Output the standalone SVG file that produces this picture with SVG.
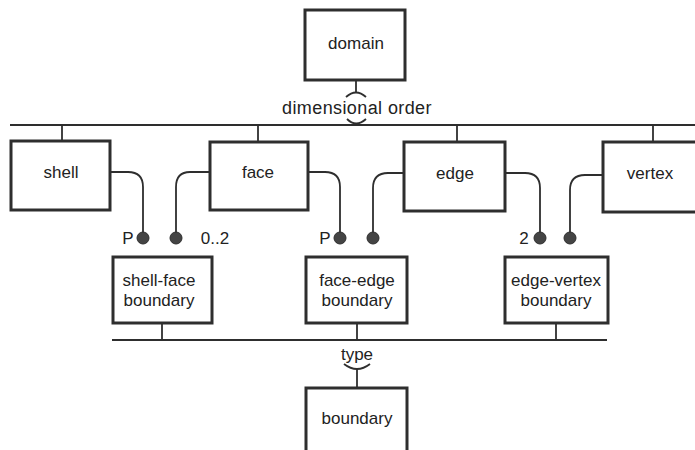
<svg xmlns="http://www.w3.org/2000/svg" width="695" height="450" viewBox="0 0 695 450">
<style>
.box{fill:#fff;stroke:#2e2e2e;stroke-width:3}
.ln{fill:none;stroke:#2e2e2e;stroke-width:1.8}
.dot{fill:#444;stroke:#2e2e2e;stroke-width:1}
text{font-family:"Liberation Sans",Arial,sans-serif;font-size:17px;fill:#222;text-anchor:middle}
.big{font-size:18px;letter-spacing:0.4px}
</style>
<rect width="695" height="450" fill="#fff"/>
<g id="connectors">
<path class="ln" d="M10,125 H695"/>
<path class="ln" d="M112,340 H607"/>
<path class="ln" d="M356,80 V93"/>
<path class="ln" d="M346,97 Q356,88 366,97"/>
<path class="ln" d="M347,119 Q356,128 366,119"/>
<path class="ln" d="M62,125 V141"/>
<path class="ln" d="M258,125 V142"/>
<path class="ln" d="M457,125 V142"/>
<path class="ln" d="M653,125 V142"/>
<path class="ln" d="M162,323 V340"/>
<path class="ln" d="M357,323 V340"/>
<path class="ln" d="M556,323 V340"/>
<path class="ln" d="M344,364 Q357,374 370,364"/>
<path class="ln" d="M357,369 V388"/>
<path class="ln" d="M110,172 H128 Q143,172 143,187 V233"/>
<path class="ln" d="M210,172 H190 Q176,172 176,187 V233"/>
<path class="ln" d="M308,172 H325 Q340,172 340,187 V233"/>
<path class="ln" d="M404,173 H388 Q373,173 373,188 V233"/>
<path class="ln" d="M505,173 H525 Q540,173 540,188 V233"/>
<path class="ln" d="M603,175 H585 Q570,175 570,190 V233"/>
<circle class="dot" cx="143" cy="238" r="6"/>
<circle class="dot" cx="176" cy="238" r="6"/>
<circle class="dot" cx="340" cy="238" r="6"/>
<circle class="dot" cx="373" cy="238" r="6"/>
<circle class="dot" cx="540" cy="238" r="6"/>
<circle class="dot" cx="570" cy="238" r="6"/>
<text class="big" x="357" y="114">dimensional order</text>
<text x="357" y="360">type</text>
<text x="128" y="244">P</text>
<text x="215" y="244">0..2</text>
<text x="325" y="244">P</text>
<text x="524" y="244">2</text>
</g>
<g id="domain"><rect class="box" x="305" y="10" width="100" height="70"/><text x="356" y="49">domain</text></g>
<g id="shell"><rect class="box" x="11" y="141" width="99" height="69"/><text x="61" y="178">shell</text></g>
<g id="face"><rect class="box" x="210" y="142" width="98" height="68"/><text x="258" y="178">face</text></g>
<g id="edge"><rect class="box" x="404" y="142" width="101" height="69"/><text x="455" y="179">edge</text></g>
<g id="vertex"><rect class="box" x="603" y="142" width="100" height="70"/><text x="650" y="179">vertex</text></g>
<g id="shell-face-boundary"><rect class="box" x="113" y="257" width="99" height="66"/><text x="159" y="286">shell-face</text><text x="159" y="306">boundary</text></g>
<g id="face-edge-boundary"><rect class="box" x="306" y="257" width="101" height="66"/><text x="357" y="286">face-edge</text><text x="357" y="306">boundary</text></g>
<g id="edge-vertex-boundary"><rect class="box" x="505" y="257" width="103" height="66"/><text x="556" y="286">edge-vertex</text><text x="556" y="306">boundary</text></g>
<g id="boundary"><rect class="box" x="306" y="388" width="101" height="70"/><text x="357" y="424">boundary</text></g>
</svg>
